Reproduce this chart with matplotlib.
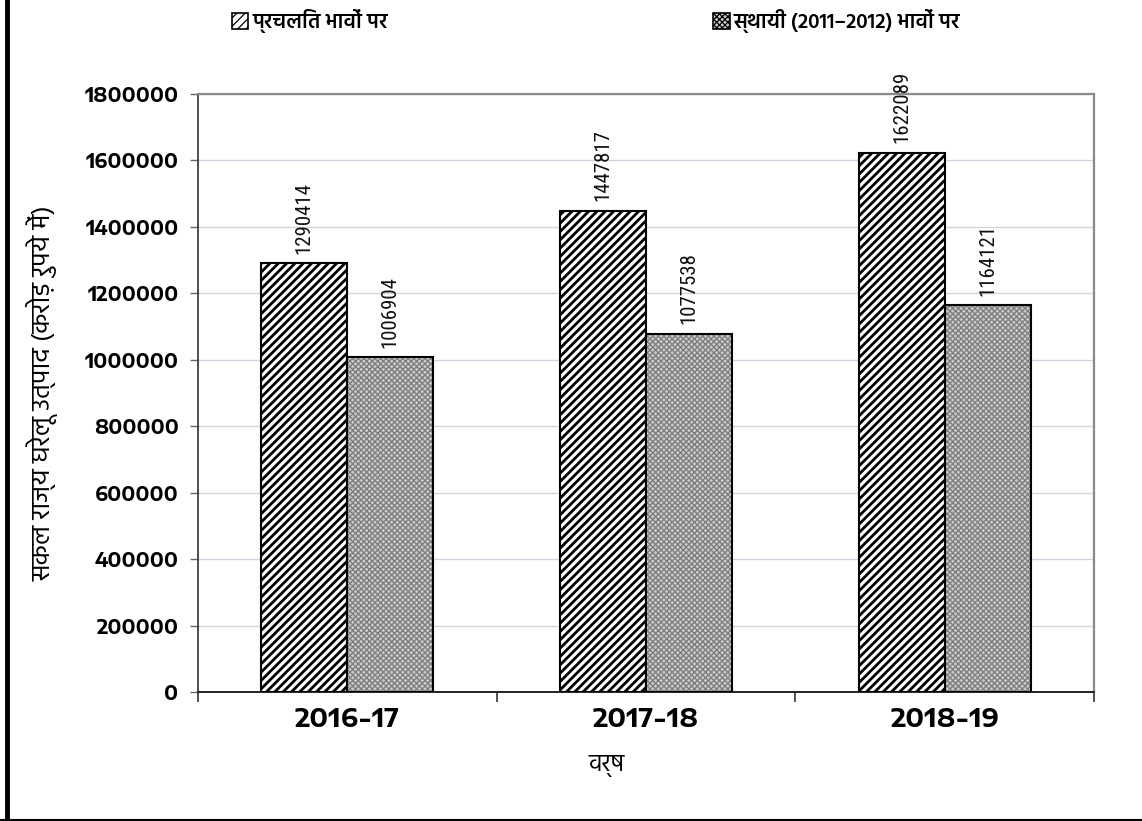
import matplotlib
matplotlib.use("Agg")
import matplotlib.pyplot as plt
import numpy as np
from matplotlib.lines import Line2D
from matplotlib.patches import Patch

years = ["2016-17", "2017-18", "2018-19"]
current_prices = [1290414, 1447817, 1622089]
constant_prices = [1006904, 1077538, 1164121]
series_labels = ["प्रचलित भावों पर", "स्थायी (2011–2012) भावों पर"]
y_ticks = [0, 200000, 400000, 600000, 800000, 1000000, 1200000, 1400000, 1600000, 1800000]

deva = ["Hind", "Noto Sans Devanagari", "FreeSans", "DejaVu Sans"]
narrow = ["Roboto Condensed", "DejaVu Sans"]
wide = ["Encode Sans Expanded", "Liberation Sans", "DejaVu Sans"]
plt.rcParams["font.family"] = ["Liberation Sans", "DejaVu Sans"]

fig = plt.figure(figsize=(11.42, 8.21), dpi=100)
ax = fig.add_axes([0.1734, 0.1571, 0.7846, 0.7284])

x = np.arange(len(years))
w = 0.288
dot_face = "#c9c9c9"
dot_ink = "#7c7c7c"

plt.rcParams["hatch.linewidth"] = 2.0
ax.bar(x - w / 2, current_prices, w, color="white", edgecolor="black",
       hatch="////", linewidth=1.5, zorder=3)
# hatch takes the edge colour, so the dotted bars get their outline in a second pass
plt.rcParams["hatch.linewidth"] = 0.9
ax.bar(x + w / 2, constant_prices, w, color=dot_face, edgecolor=dot_ink,
       hatch="xxxxxx", linewidth=0, zorder=3)
ax.bar(x + w / 2, constant_prices, w, fill=False, edgecolor="black",
       linewidth=1.5, zorder=4)

for xs, vals in ((x - w / 2, current_prices), (x + w / 2, constant_prices)):
    for xi, v in zip(xs, vals):
        ax.annotate(str(v), (xi, v), xytext=(0, 7), textcoords="offset points",
                    rotation=90, ha="center", va="bottom", fontsize=15,
                    family=narrow, color="#111111")

ax.set_xlim(-0.5, 2.5)
ax.set_ylim(0, 1800000)
ax.set_yticks(y_ticks)
ax.set_yticklabels([str(t) for t in y_ticks], fontsize=13.5, fontweight="bold",
                   family=wide)
ax.yaxis.grid(True, color="#cdd5de", linewidth=1.0, zorder=0)
ax.set_axisbelow(True)

ax.set_xticks([-0.5, 0.5, 1.5, 2.5])
ax.set_xticklabels([])
ax.set_xticks(x, minor=True)
ax.set_xticklabels(years, minor=True, fontsize=18, fontweight="bold", family=wide)
ax.tick_params(axis="x", which="major", length=7, width=1.2, color="#333333")
ax.tick_params(axis="x", which="minor", length=0, pad=11)
ax.tick_params(axis="y", length=6, width=1.0, color="#666666", pad=8)

for side in ("top", "right"):
    ax.spines[side].set_color("#8a8a8a")
    ax.spines[side].set_linewidth(1.6)
ax.spines["left"].set_color("#333333")
ax.spines["left"].set_linewidth(1.2)
ax.spines["bottom"].set_color("#222222")
ax.spines["bottom"].set_linewidth(1.4)

ax.set_xlabel("वर्ष", fontsize=17, family=deva)
ax.xaxis.set_label_coords(0.456, -0.105)
ax.set_ylabel("सकल राज्य घरेलू उत्पाद (करोड़ रुपये में)", fontsize=19,
              family=deva)
ax.yaxis.set_label_coords(-0.156, 0.5)

handles = [
    Patch(facecolor="white", edgecolor="black", hatch="////", linewidth=1.2),
    Patch(facecolor=dot_face, edgecolor="black", hatch="xxxxxx", linewidth=1.2),
]
fig.legend(handles, series_labels, loc="upper center", bbox_to_anchor=(0.522, 1.012),
           ncol=2, frameon=False, handlelength=0.8, handleheight=0.8,
           handletextpad=0.2, columnspacing=15.6,
           prop={"family": deva, "size": 15, "weight": "semibold"})

# page frame: thick rule on the left, thin one along the bottom
fig.add_artist(Line2D([0.0065, 0.0065], [0, 1], transform=fig.transFigure,
                      color="black", linewidth=3.5))
fig.add_artist(Line2D([0, 1], [0.0015, 0.0015], transform=fig.transFigure,
                      color="black", linewidth=1.5))

fig.savefig("out.png", dpi=100, facecolor="white")
